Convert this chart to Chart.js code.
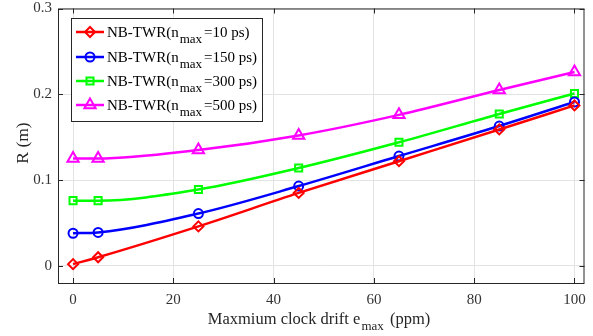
<!DOCTYPE html>
<html>
<head>
<meta charset="utf-8">
<script src="https://cdn.jsdelivr.net/npm/chart.js@4.4.1/dist/chart.umd.min.js"></script>
<style>
  html, body { margin: 0; padding: 0; background: #fff; }
  #wrap { width: 593px; height: 336px; position: relative; }
</style>
</head>
<body>
<div id="wrap"><canvas id="chart" width="593" height="336"></canvas></div>
<script>
(function () {
    // --- data ---
    var drift = [0, 5, 25, 45, 65, 85, 100];
    var r10  = [0.002, 0.010, 0.046, 0.085, 0.122, 0.159, 0.187];
    var r150 = [0.038, 0.039, 0.061, 0.093, 0.128, 0.163, 0.191];
    var r300 = [0.076, 0.076, 0.089, 0.114, 0.144, 0.177, 0.201];
    var r500 = [0.125, 0.125, 0.135, 0.152, 0.176, 0.205, 0.226];
    var legendMain = ['NB-TWR(n', 'NB-TWR(n', 'NB-TWR(n', 'NB-TWR(n'];
    var legendTail = ['=10 ps)', '=150 ps)', '=300 ps)', '=500 ps)'];
    var xTicks = [0, 20, 40, 60, 80, 100];
    var yTicks = [0, 0.1, 0.2, 0.3];

    var SERIF = '"Liberation Serif", "DejaVu Serif", serif';
    var INK = '#262626';

    function pts(ys) {
        return ys.map(function (y, i) { return { x: drift[i], y: y }; });
    }

    function series(ys, col, style, rad) {
        return {
            data: pts(ys),
            borderColor: col,
            backgroundColor: col,
            borderWidth: 2.5,
            pointStyle: style,
            pointRadius: rad,
            pointBorderWidth: 2,
            pointBackgroundColor: 'rgba(0,0,0,0)',
            pointBorderColor: col,
            cubicInterpolationMode: 'monotone',
            fill: false,
        };
    }

    var datasets = [
        series(r10,  '#ff0000', 'rectRot', 5),
        series(r150, '#0000ff', 'circle', 4.5),
        series(r300, '#00ff00', 'rect', 5),
        series(r500, '#ff00ff', 'triangle', 6.5),
    ];

    // text with a lowered "max" subscript, returns end x
    function subText(ctx, x, y, main, tail, big, small, drop) {
        ctx.font = big + 'px ' + SERIF;
        ctx.fillText(main, x, y);
        x += ctx.measureText(main).width + 1;
        ctx.font = small + 'px ' + SERIF;
        ctx.fillText('max', x, y + drop);
        x += ctx.measureText('max').width + 2;
        ctx.font = big + 'px ' + SERIF;
        ctx.fillText(tail, x, y);
        return x + ctx.measureText(tail).width;
    }

    function subWidth(ctx, main, tail, big, small) {
        ctx.font = big + 'px ' + SERIF;
        var w = ctx.measureText(main).width + ctx.measureText(tail).width + 3;
        ctx.font = small + 'px ' + SERIF;
        return w + ctx.measureText('max').width;
    }

    // box, inward ticks, axis titles and legend, MATLAB style
    var decor = {
        id: 'decor',
        afterDraw: function (chart) {
            var ctx = chart.ctx;
            var a = chart.chartArea;
            var xs = chart.scales.x, ys = chart.scales.y;
            ctx.save();

            ctx.strokeStyle = INK;
            ctx.lineWidth = 1;
            ctx.strokeRect(a.left + 0.5, a.top + 0.5, a.right - a.left - 1, a.bottom - a.top);

            ctx.beginPath();
            xTicks.forEach(function (t) {
                var px = Math.round(xs.getPixelForValue(t)) + 0.5;
                ctx.moveTo(px, a.bottom); ctx.lineTo(px, a.bottom - 5);
                ctx.moveTo(px, a.top); ctx.lineTo(px, a.top + 5);
            });
            yTicks.forEach(function (t) {
                var py = Math.round(ys.getPixelForValue(t)) + 0.5;
                ctx.moveTo(a.left, py); ctx.lineTo(a.left + 5, py);
                ctx.moveTo(a.right, py); ctx.lineTo(a.right - 5, py);
            });
            ctx.stroke();

            // x title
            ctx.fillStyle = INK;
            ctx.textBaseline = 'alphabetic';
            ctx.textAlign = 'left';
            var tw = subWidth(ctx, 'Maxmium clock drift e', ' (ppm)', 16.5, 13);
            subText(ctx, 319 - tw / 2, 324, 'Maxmium clock drift e', ' (ppm)', 16.5, 13, 6);

            // y title
            ctx.save();
            ctx.translate(28, 143);
            ctx.rotate(-Math.PI / 2);
            ctx.font = '17.5px ' + SERIF;
            ctx.textAlign = 'center';
            ctx.fillText('R (m)', 0, 0);
            ctx.restore();

            // legend
            var lx = 71, ly = 18, lw = 191, lh = 103;
            ctx.fillStyle = '#fff';
            ctx.fillRect(lx, ly, lw, lh);
            ctx.strokeStyle = INK;
            ctx.lineWidth = 1;
            ctx.strokeRect(lx + 0.5, ly + 0.5, lw, lh);
            var rows = [32, 57, 81, 105];
            datasets.forEach(function (ds, i) {
                var cy = rows[i];
                ctx.strokeStyle = ds.borderColor;
                ctx.lineWidth = 2.5;
                ctx.beginPath();
                ctx.moveTo(76, cy); ctx.lineTo(104, cy);
                ctx.stroke();
                ctx.lineWidth = 2;
                ctx.fillStyle = 'rgba(0,0,0,0)';
                Chart.helpers.drawPoint(ctx, {
                    pointStyle: ds.pointStyle, radius: ds.pointRadius,
                    borderWidth: 2, rotation: 0,
                }, 90, cy);
                ctx.fillStyle = '#000';
                ctx.textAlign = 'left';
                subText(ctx, 107, cy + 5, legendMain[i], legendTail[i], 15, 13, 6);
            });
            ctx.restore();
        },
    };

    function noPad(s) {
        s.paddingTop = 0; s.paddingBottom = 0;
        s.paddingLeft = 0; s.paddingRight = 0;
    }

    new Chart(document.getElementById('chart'), {
        type: 'line',
        data: { datasets: datasets },
        plugins: [decor],
        options: {
            responsive: false,
            animation: false,
            layout: { padding: { top: 5, right: 8, left: 0, bottom: 0 } },
            plugins: { legend: { display: false }, tooltip: { enabled: false } },
            scales: {
                x: {
                    type: 'linear',
                    min: -3,
                    max: 102,
                    afterFit: function (s) { s.height = 53; noPad(s); },
                    afterBuildTicks: function (s) {
                        s.ticks = xTicks.map(function (v) { return { value: v }; });
                    },
                    grid: { color: '#e3e3e3', drawTicks: false },
                    border: { display: false },
                    ticks: {
                        padding: 8,
                        color: '#333',
                        font: { family: SERIF, size: 15 },
                        callback: function (v) { return String(v); },
                    },
                },
                y: {
                    min: -0.02,
                    max: 0.3,
                    afterFit: function (s) { s.width = 58; noPad(s); },
                    afterBuildTicks: function (s) {
                        s.ticks = yTicks.map(function (v) { return { value: v }; });
                    },
                    grid: { color: '#e3e3e3', drawTicks: false },
                    border: { display: false },
                    ticks: {
                        padding: 6,
                        color: '#333',
                        font: { family: SERIF, size: 15 },
                        callback: function (v) { return String(Math.round(v * 10) / 10); },
                    },
                },
            },
        },
    });
})();
</script>
</body>
</html>
